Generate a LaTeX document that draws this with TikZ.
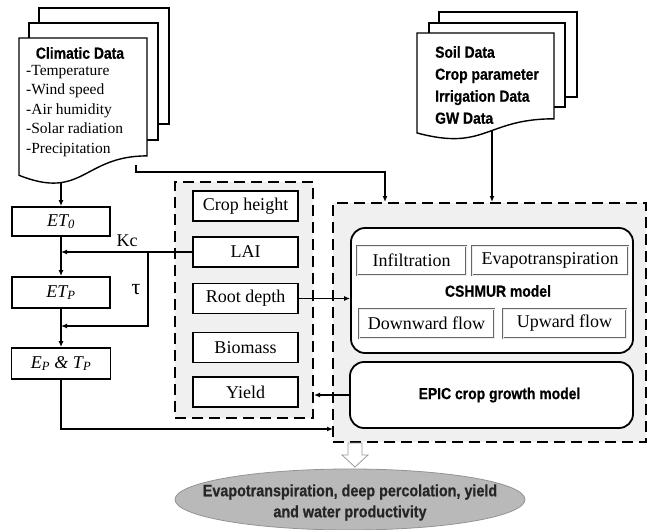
\documentclass[tikz,border=0pt]{standalone}
\usepackage{fontspec}
\setmainfont{Liberation Serif}
\newfontfamily\condf[FakeStretch=0.87, BoldFeatures={FakeBold=0.6}]{Liberation Sans}
\usetikzlibrary{arrows.meta,shapes.geometric}
\tikzset{
  bx/.style={draw, line width=1.8pt, fill=white, minimum height=30pt, inner sep=0pt, font=\fontsize{18}{21}\selectfont},
  ibx/.style={draw=gray!80!black, double=gray!15, double distance=0.8pt, line width=0.9pt, minimum height=29pt, inner sep=0pt, font=\fontsize{18}{21}\selectfont},
  dbox/.style={draw, line width=2pt, dash pattern=on 11pt off 6pt, fill=gray!12, inner sep=0pt},
  rbox/.style={draw, line width=1.8pt, rounded corners=14pt, fill=white, inner sep=0pt},
  arr/.style={line width=1.6pt, -{Latex[length=6pt,width=5pt]}},
  bold/.style={font=\condf\bfseries\fontsize{16}{19}\selectfont, inner sep=0pt},
  sheet/.style={draw, line width=1.4pt, fill=white},
  lbl/.style={font=\fontsize{18}{21}\selectfont, inner sep=0pt}
}
\newcommand\mydoc[4]{%
  \draw[sheet] (#1,#2) -- (#3,#2) -- (#3,{#2+0.802*#4})
    .. controls ({(#1+#3)/2},{#2+0.802*#4}) and ({(#1+#3)/2},{#2+1.107*#4}) ..
    (#1,{#2+0.934*#4}) -- cycle;}
\begin{document}
\begin{tikzpicture}[x=1pt,y=-1pt]
\useasboundingbox (0,0) rectangle (649,530);
% dashed containers
\node[dbox, minimum width=138pt, minimum height=236pt] (small) at (244,300) {};
\node[dbox, minimum width=313pt, minimum height=239pt] (big) at (489.5,322.5) {};
% left column
\node[bx, minimum width=98pt, minimum height=29pt] (et0) at (61,221.5) {\textit{ET\textsubscript{0}}};
\node[bx, minimum width=98pt, minimum height=31pt] (etp) at (61,292.5) {\textit{ET\textsubscript{P}}};
\node[bx, minimum width=99pt, minimum height=31pt] (ep) at (61,363.5) {\textit{E\textsubscript{P} \& T\textsubscript{P}}};
% crop variables
\node[bx, minimum width=105pt] (ch) at (245.5,206) {Crop height};
\node[bx, minimum width=105pt] (lai) at (245.5,252) {LAI};
\node[bx, minimum width=105pt] (rd) at (245.5,298.5) {Root depth};
\node[bx, minimum width=105pt] (bio) at (245.5,347.5) {Biomass};
\node[bx, minimum width=105pt] (yld) at (245.5,392) {Yield};
% models
\node[rbox, minimum width=282pt, minimum height=125pt] (cs) at (492,290.5) {};
\node[ibx, minimum width=109pt] (inf) at (411.5,260.5) {Infiltration};
\node[ibx, minimum width=156pt] (evp) at (550,260.5) {Evapotranspiration};
\node[ibx, minimum width=135pt] (dwn) at (426.5,323.5) {Downward flow};
\node[ibx, minimum width=123pt] (upw) at (564.5,323.5) {Upward flow};
\node[bold] (cst) at (498,291) {CSHMUR model};
\node[rbox, minimum width=283pt, minimum height=66pt, font=\condf\bfseries\fontsize{16}{19}\selectfont] (epic) at (491.5,395) {\hspace{16pt}EPIC crop growth model};
% result
\draw[draw=gray!80, fill=white, line width=0.8pt] (348,443) -- (362,443) -- (362,455) -- (368,455) -- (355,467) -- (342,455) -- (348,455) -- cycle;
\node[ellipse, fill=gray!55, draw=gray!85, line width=0.8pt, minimum width=350pt, minimum height=61pt, inner sep=0pt] (res) at (350,499.5) {};
\node[bold, align=center, text=black!85, font=\condf\bfseries\fontsize{16.5}{21}\selectfont] (rest) at (350,502.5) {Evapotranspiration, deep percolation, yield\\and water productivity};
% connector coordinates
\coordinate (cd1) at (61,170);
\coordinate (cd2) at (136,165);
\coordinate (c2a) at (385,172);
\coordinate (sd) at (492,128);
\coordinate (br) at (148,252);
\coordinate (tj) at (61,326);
\coordinate (epin) at (333,429);
% connectors
\draw[arr] (cd1) -- (et0.north);
\draw[arr] (cd2) |- (c2a) -- (c2a |- big.north);
\draw[arr] (sd) -- (sd |- big.north);
\draw[arr] (et0.south) -- (etp.north);
\draw[arr] (lai.west) -- (lai.west -| et0.south);
\draw[arr] (br) |- (tj);
\draw[arr] (etp.south) -- (ep.north);
\draw[arr] (ep.south) |- (epin);
\draw[arr] (rd.east) -- (rd.east -| cs.west);
\draw[arr] (epic.west) -- (epic.west -| small.east);
\node[lbl] (kc) at (127,241) {Kc};
\node[lbl, font=\fontsize{22}{24}\selectfont] (tau) at (136,290) {τ};
% climatic data sheets
\draw[sheet] (39,8) rectangle (169,124);
\draw[sheet] (29,23) rectangle (158,140);
\mydoc{19}{38}{147}{147}
\node[bold] (ctitle) at (80,53) {Climatic Data};
\node[anchor=west, align=left, inner sep=0pt, font=\fontsize{15.5}{19.5}\selectfont] (clist) at (26,111) {-Temperature\\-Wind speed\\-Air humidity\\-Solar radiation\\-Precipitation};
% soil data sheets
\draw[sheet] (439,12) rectangle (577,97);
\draw[sheet] (429,23) rectangle (565,107);
\mydoc{417}{33}{554}{107}
\node[anchor=west, align=left, inner sep=0pt, font=\condf\bfseries\fontsize{16}{22}\selectfont] (slist) at (435,85) {Soil Data\\Crop parameter\\Irrigation Data\\GW Data};
\end{tikzpicture}
\end{document}
